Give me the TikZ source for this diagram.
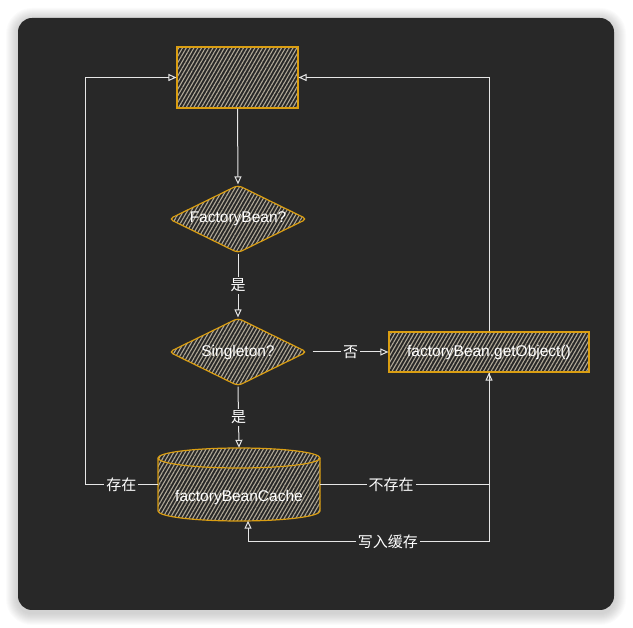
\documentclass[tikz,border=0pt]{standalone}
\usepackage{fontspec}
\setmainfont{Liberation Sans}
\newfontfamily\cjk{Noto Sans CJK SC}
\usetikzlibrary{shapes.geometric,patterns.meta,arrows.meta,calc}
\definecolor{bg}{HTML}{282828}
\definecolor{edge}{HTML}{DA9E12}
\definecolor{hatch}{HTML}{B0A998}
\definecolor{wire}{HTML}{E6E6E6}
\tikzset{
  hatched/.style={draw=edge, line width=1.2pt, pattern={Lines[angle=60,distance=3.3pt,line width=1.1pt]}, pattern color=hatch},
  txt/.style={text=white, font=\fontsize{15.5}{17}\selectfont},
  boxnode/.style={hatched, rectangle, inner sep=0pt, txt},
  dia/.style={hatched, diamond, aspect=2, inner sep=0pt, rounded corners=4pt, minimum width=138pt, minimum height=68pt, txt},
  arr/.style={draw=wire, line width=1pt, -{Triangle[open,length=8pt,width=7pt]}},
  lbl/.style={fill=bg, inner sep=2pt, text=white, font=\cjk\fontsize{15}{17}\selectfont},
}
\begin{document}
\begin{tikzpicture}[x=1pt,y=-1pt]
\useasboundingbox (0,0) rectangle (633,628);
% shadow
\foreach \i in {1,...,12}{
  \fill[black, opacity=0.014, rounded corners=14pt+\i pt] (18-\i,18-\i+2) rectangle (614+\i,610+\i+3);
}
\fill[bg, rounded corners=14pt] (18,18) rectangle (614,610);

% nodes
\node[boxnode, minimum width=121pt, minimum height=61pt] (top) at (237.5,77.5) {};
\node[dia] (d1) at (238,219) {FactoryBean?};
\node[dia] (d2) at (238,352) {Singleton?};
\node[boxnode, minimum width=200pt, minimum height=40pt] (get) at (489,352) {factoryBean.getObject()};
% cylinder
\node[rectangle, inner sep=0pt, minimum width=162pt, minimum height=73pt] (cache) at (239,484.5) {};
\path[hatched] (158,458) -- (158,511) arc[start angle=180, end angle=360, x radius=81, y radius=-10] -- (320,458) arc[start angle=0, end angle=180, x radius=81, y radius=-10] -- cycle;
\draw[edge, line width=1.2pt] (158,458) arc[start angle=180, end angle=360, x radius=81, y radius=-10];
\node[txt] at (239,497) {factoryBeanCache};

\coordinate (lx) at (85,0);
\coordinate (by) at (0,542);

% connectors
\draw[arr] (top.south) -- (d1.north);
\draw[arr] (d1.south) -- node[lbl]{是} (d2.north);
\draw[arr] (d2.south) -- node[lbl]{是} (cache.north);
\draw[arr] ([xshift=5pt]d2.east) -- node[lbl]{否} (get.west);
\draw[arr] (get.north) |- (top.east);
\draw[arr] (cache.west) -- node[lbl]{存在} (cache.west -| lx) |- (top.west);
\draw[arr] (cache.east) -- node[lbl, pos=0.42]{不存在} (cache.east -| get.south) -- (get.south);
\draw[arr] (get.south) -- (get.south |- by) -- node[lbl, pos=0.42]{写入缓存} ($(by)+(248,0)$) -- ($(cache.south)+(9,-0.5)$);
\end{tikzpicture}
\end{document}
